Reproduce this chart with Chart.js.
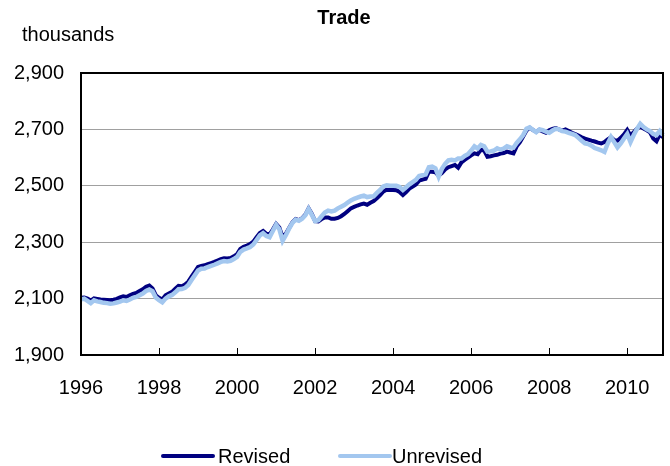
<!DOCTYPE html>
<html>
<head>
<meta charset="utf-8">
<script src="https://cdn.jsdelivr.net/npm/chart.js@4.4.1/dist/chart.umd.min.js"></script>
<style>
  body { margin: 0; background: #fff; }
  canvas { display: block; }
</style>
</head>
<body>
<canvas id="myChart" width="670" height="466"></canvas>
<script>
// monthly, Jan 1996 .. Dec 2010 (thousands)
var revised = [
  2103, 2104, 2100, 2093, 2101, 2099, 2097, 2096, 2095, 2094, 2096, 2099,
  2104, 2108, 2106, 2112, 2117, 2120, 2127, 2133, 2142, 2146, 2136, 2112,
  2103, 2097, 2112, 2118, 2124, 2135, 2145, 2144, 2150, 2160, 2178, 2195,
  2212, 2216, 2218, 2222, 2226, 2230, 2235, 2240, 2243, 2242, 2244, 2250,
  2258, 2276, 2284, 2288, 2293, 2302, 2318, 2333, 2340, 2330, 2328, 2345,
  2365, 2352, 2318, 2330, 2350, 2370, 2382, 2378, 2385, 2398, 2420, 2400,
  2375, 2374, 2382, 2388, 2388, 2383, 2383, 2386, 2392, 2400, 2410, 2420,
  2425, 2430, 2434, 2437, 2433, 2440, 2446, 2456, 2467, 2480, 2486, 2485,
  2485, 2484, 2478, 2467, 2478, 2490, 2497, 2505, 2518, 2522, 2525, 2550,
  2550, 2548, 2536, 2545, 2558, 2566, 2570, 2574, 2564, 2583, 2592, 2600,
  2608, 2615, 2612, 2628, 2625, 2603, 2605, 2608, 2610, 2614, 2616, 2621,
  2618, 2615, 2640, 2655, 2675, 2696, 2706, 2698, 2692, 2699, 2693, 2688,
  2697, 2702, 2705, 2700, 2696, 2700, 2694, 2688, 2683, 2678, 2672, 2667,
  2664, 2660, 2657, 2653, 2650, 2655, 2665, 2672, 2662, 2660, 2670, 2682,
  2698, 2678, 2690, 2703, 2710, 2703, 2697, 2690, 2668, 2658, 2682, 2672
];
var unrevised = [
  2097, 2100, 2092, 2084, 2094, 2090, 2088, 2085, 2084, 2082, 2083, 2086,
  2089, 2094, 2092, 2097, 2103, 2106, 2112, 2118, 2127, 2132, 2126, 2104,
  2094, 2087, 2100, 2108, 2113, 2122, 2133, 2134, 2138, 2148, 2166, 2183,
  2200, 2206, 2207, 2212, 2216, 2220, 2225, 2230, 2233, 2232, 2234, 2240,
  2248, 2266, 2274, 2278, 2283, 2292, 2308, 2324, 2332, 2322, 2318, 2340,
  2362, 2346, 2305, 2325, 2348, 2368, 2380, 2376, 2383, 2396, 2418, 2397,
  2375, 2378, 2392, 2405, 2412, 2409, 2412, 2420, 2426, 2432, 2440, 2448,
  2454, 2458, 2462, 2465, 2460, 2462, 2463, 2475, 2485, 2498, 2502, 2500,
  2500, 2500, 2496, 2485, 2495, 2505, 2513, 2521, 2535, 2538, 2540, 2566,
  2568, 2562, 2532, 2560, 2578, 2590, 2592, 2590, 2597, 2597, 2606, 2612,
  2625, 2640, 2632, 2645, 2640, 2621, 2622, 2625, 2633, 2628, 2632, 2640,
  2636, 2635, 2652, 2665, 2680, 2702, 2707, 2698, 2690, 2700, 2697, 2692,
  2688, 2696, 2702, 2700, 2694, 2692, 2688, 2684, 2680, 2670, 2660, 2650,
  2648, 2642, 2634, 2630, 2626, 2620, 2650, 2673, 2655, 2636, 2650, 2668,
  2684, 2655, 2680, 2702, 2720, 2708, 2700, 2694, 2684, 2680, 2694, 2680
];
var yTicks = [1900, 2100, 2300, 2500, 2700, 2900];
var yearLabels = ['1996', '1998', '2000', '2002', '2004', '2006', '2008', '2010'];

var months = [];
for (var y = 1996; y <= 2010; y++) {
    for (var m = 1; m <= 12; m++) {
        months.push(y + '-' + (m < 10 ? '0' + m : m));
    }
}

var FONT = "'Liberation Sans', Arial, sans-serif";
Chart.defaults.font.family = FONT;
Chart.defaults.color = '#000';

function isYearTick(label) {
    return label.slice(5) === '01' && yearLabels.indexOf(label.slice(0, 4)) >= 0;
}

// frame, inner x ticks, title, "thousands" and legend
var decorations = {
    id: 'decorations',
    afterDatasetsDraw: function(chart) {
        var ctx = chart.ctx, a = chart.chartArea, xs = chart.scales.x;
        ctx.save();
        ctx.strokeStyle = '#000';
        ctx.lineWidth = 1;
        months.forEach(function(lbl, i) {
            if (isYearTick(lbl) && i > 0) {
                var px = Math.round(xs.getPixelForValue(i)) + 0.5;
                ctx.beginPath();
                ctx.moveTo(px, a.bottom);
                ctx.lineTo(px, a.bottom - 7);
                ctx.stroke();
            }
        });
        ctx.lineWidth = 2;
        ctx.strokeRect(a.left, a.top, a.right - a.left, a.bottom - a.top);

        ctx.fillStyle = '#000';
        ctx.textBaseline = 'middle';
        ctx.textAlign = 'center';
        ctx.font = 'bold 20px ' + FONT;
        ctx.fillText('Trade', 344, 18);

        ctx.font = '20px ' + FONT;
        ctx.textAlign = 'left';
        ctx.fillText('thousands', 22, 35);

        var ly = 456;
        var items = [[163, 50, 218], [340, 50, 392]];
        chart.data.datasets.forEach(function(ds, i) {
            var it = items[i];
            ctx.strokeStyle = ds.borderColor;
            ctx.lineWidth = 4;
            ctx.lineCap = 'round';
            ctx.beginPath();
            ctx.moveTo(it[0], ly);
            ctx.lineTo(it[0] + it[1], ly);
            ctx.stroke();
            ctx.fillText(ds.label, it[2], ly + 1);
        });
        ctx.restore();
    }
};

var ctx = document.getElementById('myChart').getContext('2d');
var myChart = new Chart(ctx, {
    type: 'line',
    data: {
        labels: months,
        datasets: [{
            label: 'Revised',
            data: revised,
            borderColor: '#000080',
            borderWidth: 4,
            pointRadius: 0,
            tension: 0,
            order: 1
        }, {
            label: 'Unrevised',
            data: unrevised,
            borderColor: '#a3c7ef',
            borderWidth: 4.5,
            pointRadius: 0,
            tension: 0,
            order: 0
        }]
    },
    options: {
        responsive: false,
        animation: false,
        layout: { padding: { left: 0, right: 7, top: 73, bottom: 0 } },
        plugins: {
            legend: { display: false },
            tooltip: { enabled: false },
            title: { display: false }
        },
        scales: {
            x: {
                grid: { display: false, drawTicks: false },
                border: { display: false },
                afterFit: function(s) {
                    s.height = 111;
                    s.paddingLeft = 0;
                    s.paddingRight = 0;
                },
                ticks: {
                    autoSkip: false,
                    maxRotation: 0,
                    padding: 21,
                    font: { size: 20 },
                    callback: function(v, i) {
                        var lbl = months[i];
                        return isYearTick(lbl) ? lbl.slice(0, 4) : '';
                    }
                }
            },
            y: {
                min: yTicks[0],
                max: yTicks[yTicks.length - 1],
                afterFit: function(s) { s.width = 81; },
                afterBuildTicks: function(s) {
                    s.ticks = yTicks.map(function(v) { return { value: v }; });
                },
                grid: { color: '#a0a0a0', lineWidth: 1, drawTicks: false },
                border: { display: false },
                ticks: {
                    padding: 17,
                    font: { size: 20 },
                    callback: function(v) { return v.toLocaleString('en-US'); }
                }
            }
        }
    },
    plugins: [decorations]
});
</script>
</body>
</html>
